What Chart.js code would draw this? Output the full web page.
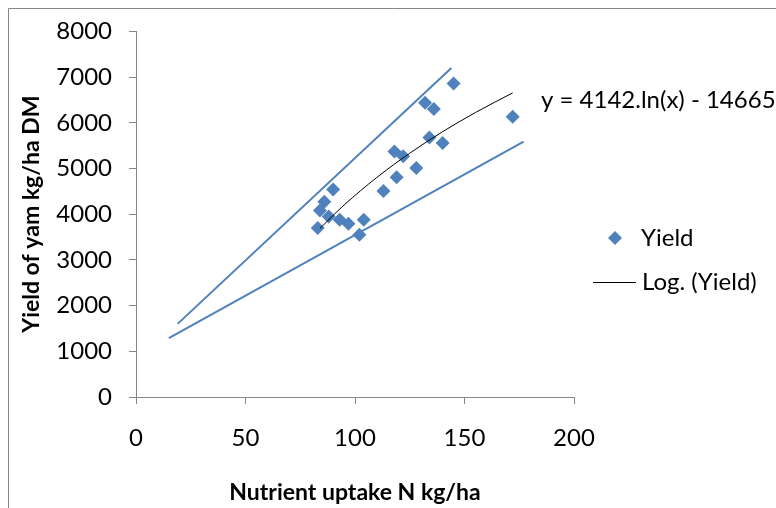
<!DOCTYPE html>
<html>
<head>
<meta charset="utf-8">
<script src="https://cdn.jsdelivr.net/npm/chart.js@4.4.1/dist/chart.umd.min.js"></script>
<style>
    html, body { margin: 0; padding: 0; background: #fff; }
    canvas { display: block; }
</style>
</head>
<body>
<canvas id="yield-chart" width="776" height="508" style="width:776px;height:508px"></canvas>
<script>
// start: Data
const uptakeN = [83, 84, 86, 90, 88, 93, 97, 102, 104, 113, 119, 118, 122, 128, 134, 140, 132, 136, 145, 172];
const yieldDM = [3700, 4080, 4270, 4540, 3950, 3880, 3790, 3550, 3880, 4510, 4810, 5370, 5270, 5010, 5680, 5560, 6440, 6300, 6860, 6130];

// logarithmic trend line
const trendX = [84, 95, 110, 125, 140, 155, 172];
const trendY = [3690, 4200, 4805, 5335, 5805, 6225, 6655];

// hand drawn envelope lines
const upperX = [19, 144];
const upperY = [1600, 7200];
const lowerX = [15, 177];
const lowerY = [1290, 5590];

const xTicks = [0, 50, 100, 150, 200];
const yTicks = [0, 1000, 2000, 3000, 4000, 5000, 6000, 7000, 8000];

const equationText = 'y = 4142.ln(x) - 14665';
// end: Data

const BLUE = '#4F81BD';
const AXIS = '#868686';
const FONT = 'Lato, "Open Sans", sans-serif';

function toPoints(xs, ys) {
    return xs.map(function (x, i) { return { x: x, y: ys[i] } })
}

// start: Extras (frame, equation, legend)
const extras = {
    id: 'extras',
    afterDraw: function (chart) {
        const ctx = chart.ctx
        ctx.save()
        // outer frame
        ctx.strokeStyle = AXIS
        ctx.lineWidth = 1
        ctx.beginPath()
        ctx.moveTo(8.5, 508)
        ctx.lineTo(8.5, 8.5)
        ctx.lineTo(776, 8.5)
        ctx.stroke()

        ctx.fillStyle = '#000'
        ctx.font = '24px ' + FONT
        ctx.textBaseline = 'middle'
        ctx.textAlign = 'left'
        ctx.fillText(equationText, 541, 100)

        // legend
        ctx.fillStyle = BLUE
        ctx.beginPath()
        ctx.moveTo(615, 231)
        ctx.lineTo(622, 238)
        ctx.lineTo(615, 245)
        ctx.lineTo(608, 238)
        ctx.closePath()
        ctx.fill()
        ctx.fillStyle = '#000'
        ctx.fillText('Yield', 641, 238)

        ctx.strokeStyle = '#000'
        ctx.beginPath()
        ctx.moveTo(593, 282.5)
        ctx.lineTo(636, 282.5)
        ctx.stroke()
        ctx.fillText('Log. (Yield)', 642, 282)
        ctx.restore()
    }
}
// end: Extras

// start: Chart
new Chart(document.getElementById('yield-chart'), {
    type: 'scatter',
    data: {
        datasets: [
            {
                label: 'Log. (Yield)',
                type: 'line',
                data: toPoints(trendX, trendY),
                borderColor: '#000',
                borderWidth: 1,
                pointRadius: 0,
                cubicInterpolationMode: 'monotone',
                fill: false
            },
            {
                label: 'upper',
                type: 'line',
                data: toPoints(upperX, upperY),
                borderColor: BLUE,
                borderWidth: 2,
                pointRadius: 0,
                fill: false
            },
            {
                label: 'lower',
                type: 'line',
                data: toPoints(lowerX, lowerY),
                borderColor: BLUE,
                borderWidth: 2,
                pointRadius: 0,
                fill: false
            },
            {
                label: 'Yield',
                data: toPoints(uptakeN, yieldDM),
                pointStyle: 'rectRot',
                pointRadius: 7,
                pointBackgroundColor: BLUE,
                pointBorderColor: BLUE,
                pointBorderWidth: 0
            }
        ]
    },
    options: {
        responsive: false,
        animation: false,
        layout: {
            padding: { top: 28, right: 202, left: 0, bottom: 0 }
        },
        plugins: {
            legend: { display: false },
            tooltip: { enabled: false }
        },
        scales: {
            x: {
                type: 'linear',
                min: 0,
                max: 200,
                afterBuildTicks: function (scale) {
                    scale.ticks = xTicks.map(function (v) { return { value: v } })
                },
                afterFit: function (scale) { scale.height = 111 },
                grid: { drawOnChartArea: false, tickLength: 7, color: AXIS },
                border: { color: AXIS },
                ticks: {
                    padding: 20,
                    color: '#000',
                    font: { family: FONT, size: 24 },
                    callback: function (v) { return String(v) }
                },
                title: {
                    display: true,
                    text: 'Nutrient uptake N kg/ha',
                    color: '#000',
                    font: { family: FONT, size: 23, weight: 'bold' },
                    padding: { top: 0, bottom: 2 }
                }
            },
            y: {
                min: 0,
                max: 8000,
                afterBuildTicks: function (scale) {
                    scale.ticks = yTicks.map(function (v) { return { value: v } })
                },
                afterFit: function (scale) { scale.width = 136 },
                grid: { drawOnChartArea: false, tickLength: 7, color: AXIS },
                border: { color: AXIS },
                ticks: {
                    padding: 17,
                    color: '#000',
                    font: { family: FONT, size: 24 },
                    callback: function (v) { return String(v) }
                },
                title: {
                    display: true,
                    text: 'Yield of yam kg/ha DM',
                    color: '#000',
                    font: { family: FONT, size: 23, weight: 'bold' },
                    padding: { top: 18, bottom: 0 }
                }
            }
        }
    },
    plugins: [extras]
});
// end: Chart
</script>
</body>
</html>
